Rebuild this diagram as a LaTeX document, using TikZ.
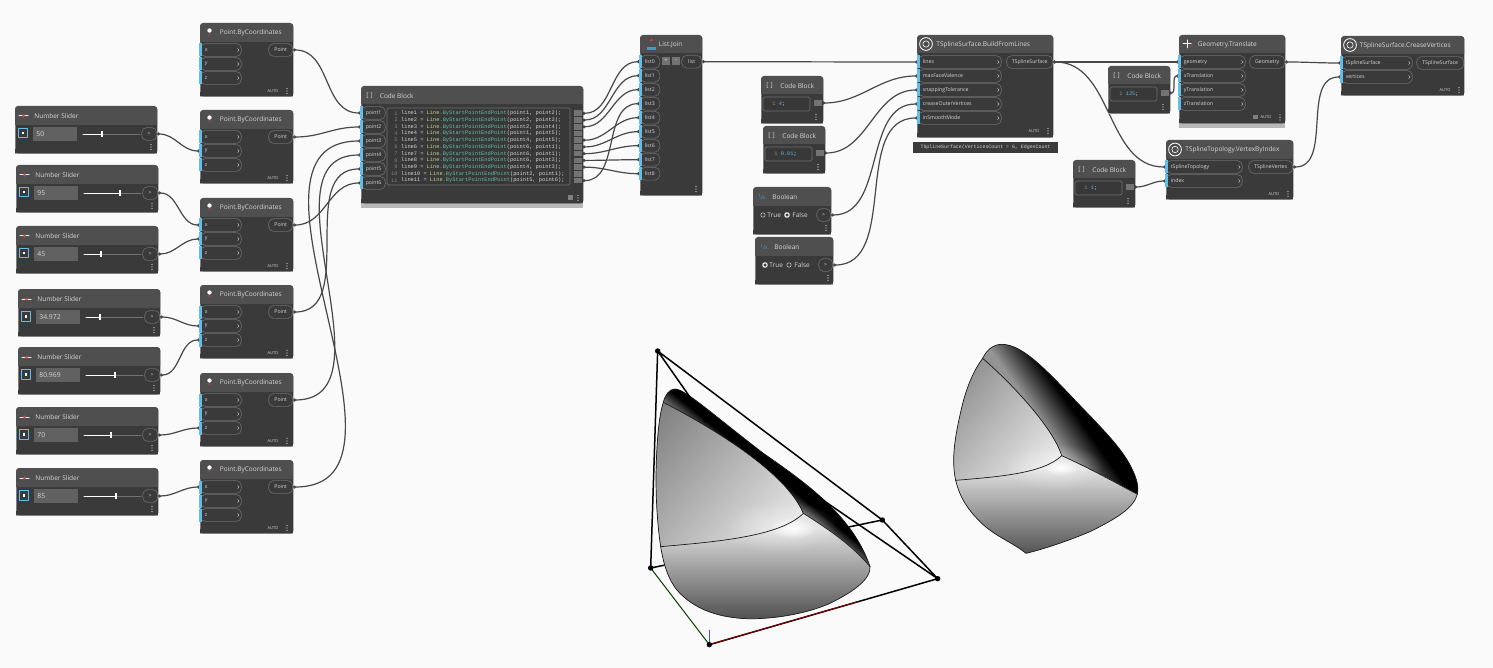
\documentclass[tikz,border=0pt]{standalone}
\usepackage{fontspec}
\setmainfont{Open Sans}
\newfontfamily\codefont{Liberation Mono}
\usetikzlibrary{arrows.meta,backgrounds,fadings}
\definecolor{dynPage}{HTML}{FAFAFA}
\definecolor{dynDark}{HTML}{3A3A3A}
\definecolor{dynHead}{HTML}{4F4F4F}
\definecolor{dynEdge}{HTML}{6E6E6E}
\definecolor{dynWire}{HTML}{484848}
\definecolor{dynBlue}{HTML}{62BDE8}
\definecolor{dynText}{HTML}{D6D6D6}
\definecolor{dynNum}{HTML}{5CB4E4}
\definecolor{dynRed}{HTML}{C8484A}
\definecolor{codeLine}{HTML}{C6D98A}
\definecolor{codeCall}{HTML}{62BFA8}
\tikzset{
	blockbody/.style={fill=dynDark,rounded corners=1.5pt,inner sep=0pt,anchor=north west},
	blocktitle/.style={anchor=west,inner sep=0pt,text=dynText,font=\fontsize{3.25}{4}\selectfont},
	inport/.style={anchor=west,draw=dynEdge,line width=.3pt,fill=dynDark,rounded corners=2.5pt,inner xsep=2.2pt,inner ysep=0pt,minimum height=6.4pt,align=left,text=dynText,font=\fontsize{2.6}{3}\selectfont},
	outport/.style={anchor=east,draw=dynEdge,line width=.3pt,fill=dynDark,rounded corners=2.5pt,inner xsep=0pt,inner ysep=0pt,minimum height=6.4pt,text=dynText,font=\fontsize{2.6}{3}\selectfont},
	porttip/.style={draw=dynText,line width=.2pt},
	codebox/.style={anchor=east,fill=black!55,inner sep=0pt,minimum width=4pt,minimum height=2.8pt},
	codefield/.style={draw=dynEdge,line width=.3pt,fill=black!78,rounded corners=.8pt},
	codetext/.style={anchor=west,inner sep=0pt,text=dynText,font=\fontsize{2.67}{3}\codefont},
	tag/.style={anchor=center,inner sep=0pt,text=dynText,font=\fontsize{2}{2.4}\selectfont},
	wire/.style={draw=dynWire,line width=.6pt,{Circle[length=1.5pt]}-{Circle[length=1.5pt]}},
	longwire/.style={wire,looseness=1.05},
	radioon/.style={draw=white,line width=.55pt,fill=dynDark},
	radiooff/.style={draw=dynText,line width=.25pt,fill=dynDark},
	frameline/.style={draw=black,line width=.75pt},
	seam/.style={draw=black!90,line width=.35pt}
}
\tikzfading[name=glowfade,inner color=transparent!0,outer color=transparent!100]
% name, x, y, width, height, header height
\newcommand{\dynblock}[6]{%
	\fill[black!35] (#2,#3+#5) rectangle (#2+#4,#3+#5+1);
	\node[blockbody,minimum width=#4*.5pt,minimum height=#5*.5pt] (#1) at (#2,#3) {};
	\fill[dynHead] (#2,#3+#6) [rounded corners=1.5pt] -- (#2,#3) -- (#2+#4,#3) [sharp corners] -- (#2+#4,#3+#6) -- cycle;
	\fill[dynDark] (#2,#3+#5-4) rectangle (#2+#4,#3+#5);
}
\newcommand{\dyndots}[2]{\foreach \dd in {-2.5,0,2.5}\fill[dynText] (#1,#2+\dd) circle (.32pt);}
\newcommand{\autotag}[3]{\node[tag] (#1) at (#2,#3) {AUTO};\dyndots{#2+14}{#3}}
% name, x, y, width, label
\newcommand{\plainport}[5]{%
	\node[inport,minimum width=#4*.5pt,text width=(#4-9)*.5pt] (#1) at (#2,#3) {#5};
	\fill[dynBlue] (#2-1,#3-6.5) rectangle (#2+2,#3+6.5);
}
\newcommand{\inport}[5]{%
	\plainport{#1}{#2}{#3}{#4}{#5}
	\draw[porttip] (#1.east) ++(-4,-1.5) -- ++(1.5,1.5) -- ++(-1.5,1.5);
}
\newcommand{\outport}[5]{\node[outport,minimum width=#4*.5pt] (#1) at (#2,#3) {#5};}
\newcommand{\numslider}[5]{%
	\dynblock{#1body}{#2}{#3}{142}{47}{19}
	\draw[white,line width=.5pt] (#2+4,#3+10) -- (#2+13,#3+10);
	\fill[dynRed] (#2+8.5,#3+10) circle (.8pt);
	\node[blocktitle] (#1title) at (#2+19,#3+10.5) {Number Slider};
	\draw[dynBlue,line width=.5pt,fill=dynDark] (#2+3,#3+22.5) rectangle (#2+12,#3+32);
	\fill[white] (#2+6.5,#3+26) rectangle (#2+8.5,#3+28.5);
	\fill[black!62] (#2+18,#3+21) rectangle (#2+62,#3+35);
	\node[codetext,font=\fontsize{3.4}{4}\selectfont] (#1val) at (#2+21,#3+28) {#4};
	\draw[black!55,line width=.3pt] (#2+68,#3+28) -- (#2+125,#3+28);
	\draw[white,line width=.4pt] (#2+68,#3+28) -- (#5,#3+28);
	\fill[white] (#5-1,#3+25) rectangle (#5+1,#3+31);
	\outport{#1}{#2+142}{#3+28}{15}{>}
	\dyndots{#2+136}{#3+41}
}
\newcommand{\pointblock}[2]{%
	\dynblock{#1body}{200}{#2}{93}{73}{19}
	\fill[white] (209.5,#2+7.5) circle (1.1pt);
	\node[tag,text=dynRed,font=\fontsize{1.5}{2}\selectfont] (#1icon) at (209.5,#2+12.5) {xyz};
	\node[blocktitle] (#1title) at (219.5,#2+10) {Point.ByCoordinates};
	\inport{#1x}{200}{#2+27}{41}{x}
	\inport{#1y}{200}{#2+41}{41}{y}
	\inport{#1z}{200}{#2+55}{41}{z}
	\outport{#1}{293}{#2+27}{24}{Point}
	\autotag{#1auto}{273}{#2+68}
}
% name, x, y, code
\newcommand{\smallcode}[4]{%
	\dynblock{#1body}{#2}{#3}{62}{47}{18}
	\node[blocktitle] (#1icon) at (#2+5,#3+10) {[\textcolor{dynRed}{\,\,}]};
	\node[blocktitle] (#1title) at (#2+19,#3+10) {Code Block};
	\draw[codefield] (#2+2,#3+21) rectangle (#2+49,#3+35);
	\node[codetext] (#1code) at (#2+11,#3+28) {\textcolor{black!45}{1} \textcolor{dynNum}{#4};};
	\node[codebox] (#1) at (#2+61,#3+27) {};
	\dyndots{#2+55}{#3+41}
}
\newcommand{\boolblock}[5]{%
	\dynblock{#1body}{#2}{#3}{78}{47}{19}
	\node[tag,text=dynNum,font=\fontsize{2.6}{3}\selectfont] (#1icon) at (#2+9,#3+10) {\raisebox{.8pt}{\fontsize{1.8}{2}\selectfont 1}/\fontsize{1.8}{2}\selectfont 0};
	\node[blocktitle] (#1title) at (#2+19,#3+10.5) {Boolean};
	\draw[#4] (#2+10,#3+28) circle (1.1pt);
	\node[blocktitle] (#1true) at (#2+14,#3+28) {True};
	\draw[#5] (#2+34,#3+28) circle (1.1pt);
	\node[blocktitle] (#1false) at (#2+39,#3+28) {False};
	\outport{#1}{#2+78}{#3+28}{14}{>}
	\dyndots{#2+73}{#3+41}
}
\newcommand{\tsicon}[2]{%
	\draw[white,line width=.4pt] (#1,#2) circle (3.2pt);
	\draw[white,line width=.3pt] (#1,#2) circle (1.6pt);
}
\begin{document}
\begin{tikzpicture}[x=.5pt,y=-.5pt,line join=round,line cap=round]
	\useasboundingbox (0,0) rectangle (1493,668);
	\begin{scope}[on background layer]
		\fill[dynPage] (0,0) rectangle (1493,668);
	\end{scope}
	% sliders
	\numslider{sa}{15}{106}{50}{102}
	\numslider{sb}{16}{165}{95}{120}
	\numslider{sc}{16}{226}{45}{101}
	\numslider{sd}{18}{289}{34.972}{100}
	\numslider{se}{18}{347}{80.969}{115}
	\numslider{sf}{16}{407}{70}{111}
	\numslider{sg}{16}{468}{85}{116}
	% points
	\foreach \nm/\yy in {pa/23,pb/110,pc/198,pd/285,pe/373,pf/460}{\pointblock{\nm}{\yy}}
	% big code block
	\fill[black!28] (361,203) rectangle (583,208);
	\dynblock{cbbody}{361}{86}{222}{117}{18}
	\node[blocktitle] (cbicon) at (366,96) {[\textcolor{dynRed}{\,\,}]};
	\node[blocktitle] (cbtitle) at (379.5,96) {Code Block};
	\draw[codefield] (387,108) rectangle (570,185);
	\foreach \i/\yy in {1/113,2/127,3/141,4/155,5/169,6/183}{\plainport{point\i}{361}{\yy}{24}{point\i}}
	\foreach \a/\b [count=\n] in {1/2,2/3,2/4,1/5,4/5,6/1,6/1,6/3,4/3,2/1,5/6}{
		\node[codetext,anchor=east,text=black!50] (cbnum\n) at (398,{113.3+(\n-1)*6.73}) {\n};
		\node[codetext] (cbline\n) at (400.7,{113.3+(\n-1)*6.73}) {line\n{} = \textcolor{codeLine}{Line}\textcolor{codeCall}{.ByStartPointEndPoint}(point\a, point\b);};
		\node[codebox] (cbout\n) at (582.5,{113.3+(\n-1)*6.73}) {};
	}
	\fill[black!50] (568,195.5) rectangle (573,200);
	\dyndots{578}{198}
	% list join
	\dynblock{ljbody}{640}{35}{62}{160}{18}
	\fill[dynBlue!80!black] (647,47) rectangle (656,50);
	\fill[dynRed] (650,41) -- (653,41) -- (651.5,38) -- cycle;
	\node[blocktitle] (ljtitle) at (658.5,44.5) {List.Join};
	\foreach \i in {0,...,8}{\plainport{list\i}{640}{61.7+14*\i}{19.5}{list\i}}
	\node[codebox,anchor=west,minimum width=3.6pt,minimum height=4pt,text=dynText,font=\fontsize{3}{3}\selectfont] (ljplus) at (662,61) {+};
	\node[codebox,anchor=west,minimum width=3.6pt,minimum height=4pt,text=dynText,font=\fontsize{3}{3}\selectfont] (ljminus) at (672,61) {-};
	\outport{ljout}{702}{61.7}{20}{list}
	\dyndots{696}{189}
	% build from lines
	\dynblock{bfbody}{917}{35}{136}{102}{18}
	\tsicon{926}{44}
	\node[blocktitle] (bftitle) at (936,44.5) {TSplineSurface.BuildFromLines};
	\foreach \nm/\lb [count=\n] in {bfa/lines,bfb/maxFaceValence,bfc/snappingTolerance,bfd/creaseOuterVertices,bfe/inSmoothMode}{\inport{\nm}{918}{48+14*\n}{83}{\lb}}
	\outport{bfout}{1053}{62}{46}{TSplineSurface}
	\autotag{bfauto}{1034}{131}
	\node[fill=dynDark,inner sep=0pt,minimum width=72.5pt,minimum height=5.5pt,text=dynText,font=\fontsize{2.46}{3}\codefont] (bfbubble) at (985.5,147.5) {TSplineSurface(VerticesCount = 6, EdgesCount};
	% small blocks
	\smallcode{cca}{761}{76}{4}
	\smallcode{ccb}{763}{126}{0.01}
	\boolblock{ba}{753}{187}{radiooff}{radioon}
	\boolblock{bb}{755}{237}{radioon}{radiooff}
	\smallcode{ccc}{1108}{66}{125}
	\smallcode{ccd}{1073}{160}{1}
	% translate
	\fill[black!28] (1179,123) rectangle (1285,128);
	\dynblock{gtbody}{1179}{35}{106}{88}{18}
	\draw[white,line width=.5pt] (1183,44) -- (1191,44) (1187,40) -- (1187,48);
	\node[tag,text=dynRed,font=\fontsize{1.5}{2}\selectfont] (gticon) at (1191,47.5) {xyz};
	\node[blocktitle] (gttitle) at (1197.5,44.5) {Geometry.Translate};
	\foreach \nm/\lb [count=\n] in {gta/geometry,gtb/xTranslation,gtc/yTranslation,gtd/zTranslation}{\inport{\nm}{1179}{48+14*\n}{66}{\lb}}
	\outport{gtout}{1285}{62}{35}{Geometry}
	\fill[black!50] (1253,115) rectangle (1258,119);
	\autotag{gtauto}{1266}{117.5}
	% vertex by index
	\dynblock{vibody}{1166}{140}{127}{59}{19}
	\tsicon{1175}{149.5}
	\node[blocktitle] (vititle) at (1185,149.5) {TSplineTopology.VertexByIndex};
	\inport{via}{1166}{167}{76}{tSplineTopology}
	\inport{vib}{1166}{181}{76}{index}
	\outport{viout}{1293}{167}{44}{TSplineVertex}
	\autotag{viauto}{1274}{194}
	% crease vertices
	\dynblock{cvbody}{1341}{36}{123}{59}{18}
	\tsicon{1350}{45}
	\node[blocktitle] (cvtitle) at (1359.5,45.5) {TSplineSurface.CreaseVertices};
	\inport{cva}{1341}{63}{71}{tSplineSurface}
	\inport{cvb}{1341}{77}{71}{vertices}
	\outport{cvout}{1464}{63}{47}{TSplineSurface}
	\autotag{cvauto}{1445}{90}
	% wires
	\begin{scope}[on background layer]
		\draw[wire] (sa) to[out=0,in=180] (pby);
		\draw[wire] (sb) to[out=0,in=180] (pcx);
		\draw[wire] (sc) to[out=0,in=180] (pcy);
		\draw[wire] (sd) to[out=0,in=180] (pdy);
		\draw[wire] (se) to[out=0,in=180] (pdz);
		\draw[wire] (sf) to[out=0,in=180] (pez);
		\draw[wire] (sg) to[out=0,in=180] (pfx);
		\foreach \s/\t in {pa/point1,pb/point2,pc/point6,pd/point5,pe/point4,pf/point3}
			\draw[longwire] (\s.east) to[out=0,in=180] (\t.west);
		\foreach \a/\b in {1/0,2/1,3/2,5/4,6/5,7/6,8/7,9/8,11/3}
			\draw[wire] (cbout\a.east) to[out=0,in=180] (list\b.west);
		\draw[wire] (ljout.east) to[out=0,in=180] (bfa.west);
		\draw[wire] (cca.east) to[out=0,in=180] (bfb.west);
		\draw[wire] (ccb.east) to[out=0,in=180] (bfc.west);
		\draw[wire] (ba.east) to[out=0,in=180] (bfd.west);
		\draw[wire] (bb.east) to[out=0,in=180] (bfe.west);
		\draw[wire] (bfout.east) to[out=0,in=180] (gta.west);
		\draw[wire] (bfout.east) to[out=0,in=180] (via.west);
		\draw[wire] (ccc.east) to[out=0,in=180] (gtb.west);
		\draw[wire] (ccd.east) to[out=0,in=180] (vib.west);
		\draw[wire] (gtout.east) to[out=0,in=180] (cva.west);
		\draw[wire] (viout.east) to[out=0,in=180] (cvb.west);
	\end{scope}
	% control frame with surface
	\begin{scope}[shift={(630,340)},x=.16667pt,y=-.16667pt]
		\coordinate (wa) at (83,33);
		\coordinate (wb) at (228,240);
		\coordinate (wc) at (62,684);
		\coordinate (wd) at (238,914);
		\coordinate (we) at (923,716);
		\coordinate (wf) at (757,540);
		\coordinate (wg) at (683,785);
		\coordinate (wh) at (238,870);
		\coordinate (la) at (300,400);
		\coordinate (lb) at (450,400);
		\draw[frameline] (wf) -- (wc);
		\def\sleft{.. controls (80,540) and (75,440) .. (80,340) .. controls (83,280) and (88,225) .. (100,187)}
		\def\stop{.. controls (105,165) and (118,147) .. (135,147) .. controls (165,147) and (250,225) .. (400,340) .. controls (530,430) and (670,530) .. (720,680)}
		\def\slow{.. controls (722,715) and (680,750) .. (600,790) .. controls (520,825) and (420,838) .. (350,836) .. controls (250,832) and (190,800) .. (150,760) .. controls (115,725) and (100,670) .. (92,620)}
		\begin{scope}
			\clip (92,620) \sleft .. controls (260,270) and (470,400) .. (520,520) .. controls (450,590) and (260,605) .. (92,620) -- cycle;
			\fill[black!48] (0,0) rectangle (800,900);
			\shade[transform canvas={rotate around={-40:(la)}},left color=black!50,right color=black!10] (10,-200) rectangle (545,1000);
		\end{scope}
		\begin{scope}
			\clip (100,187) \stop .. controls (670,620) and (600,570) .. (520,520) .. controls (470,400) and (260,270) .. (100,187) -- cycle;
			\fill[black!48] (0,0) rectangle (800,900);
			\shade[transform canvas={rotate around={51:(lb)}},left color=black!48,right color=black,middle color=black] (390,-400) rectangle (480,1200);
		\end{scope}
		\begin{scope}
			\clip (720,680) \slow .. controls (260,605) and (450,590) .. (520,520) .. controls (600,570) and (670,620) .. (720,680) -- cycle;
			\fill[black!12] (0,0) rectangle (800,900);
			\shade[top color=black!12,bottom color=black!70] (0,560) rectangle (800,845);
		\end{scope}
		\begin{scope}
			\clip (100,187) \stop \slow \sleft -- cycle;
			\fill[white,opacity=.4,path fading=glowfade] (450,560) ellipse (170 and 80);
			\fill[white,path fading=glowfade] (490,565) ellipse (70 and 32);
		\end{scope}
		\draw[seam] (100,187) \stop \slow \sleft -- cycle;
		\draw[seam] (100,187) .. controls (260,270) and (470,400) .. (520,520);
		\draw[seam] (92,620) .. controls (260,605) and (450,590) .. (520,520);
		\draw[seam] (520,520) .. controls (600,570) and (670,620) .. (720,680);
		\draw[frameline] (wa) -- (wc) (wa) -- (wf) -- (we) (wa) -- (wb) -- (we) -- (wd);
		\draw[draw=black!15!green!30!black,line width=.5pt] (wc) -- (wd);
		\draw[draw=red!50!black,line width=.5pt] (wd) -- (wg);
		\draw[draw=blue!70,line width=.25pt] (wd) -- (wh);
		\foreach \p in {wa,wb,wc,wd,we,wf}\fill (\p) circle (1.35pt);
	\end{scope}
	% creased result
	\begin{scope}[shift={(940,335)},x=.16667pt,y=-.16667pt]
		\coordinate (ra) at (200,250);
		\coordinate (rb) at (400,200);
		\def\sleft{.. controls (35,380) and (42,320) .. (60,240) .. controls (75,170) and (95,115) .. (128,70)}
		\def\stop{.. controls (140,45) and (160,28) .. (185,28) .. controls (240,28) and (300,85) .. (390,180) .. controls (470,265) and (545,335) .. (575,400) .. controls (590,430) and (597,455) .. (592,478)}
		\def\slow{.. controls (580,520) and (530,550) .. (450,590) .. controls (390,615) and (320,640) .. (258,655) .. controls (215,620) and (165,605) .. (120,560) .. controls (85,525) and (60,490) .. (47,436)}
		\begin{scope}
			\clip (47,436) \sleft .. controls (220,150) and (340,280) .. (365,362) .. controls (310,415) and (180,425) .. (47,436) -- cycle;
			\fill[black!42] (0,0) rectangle (700,700);
			\shade[transform canvas={rotate around={-40:(ra)}},left color=black!42,right color=black!8] (29,-250) rectangle (398,750);
		\end{scope}
		\begin{scope}
			\clip (128,70) \stop .. controls (530,445) and (450,400) .. (365,362) .. controls (340,280) and (220,150) .. (128,70) -- cycle;
			\fill[black!42] (0,0) rectangle (700,700);
			\shade[transform canvas={rotate around={35:(rb)}},left color=black!42,right color=black,middle color=black] (285,-400) rectangle (485,800);
		\end{scope}
		\begin{scope}
			\clip (592,478) \slow .. controls (180,425) and (310,415) .. (365,362) .. controls (450,400) and (530,445) .. (592,478) -- cycle;
			\fill[black!12] (0,0) rectangle (700,700);
			\shade[top color=black!12,bottom color=black!68] (0,400) rectangle (700,660);
		\end{scope}
		\begin{scope}
			\clip (128,70) \stop \slow \sleft -- cycle;
			\fill[white,opacity=.4,path fading=glowfade] (340,395) ellipse (150 and 70);
			\fill[white,path fading=glowfade] (362,398) ellipse (55 and 24);
		\end{scope}
		\draw[seam] (128,70) \stop \slow \sleft -- cycle;
		\draw[seam] (128,70) .. controls (220,150) and (340,280) .. (365,362);
		\draw[seam] (47,436) .. controls (180,425) and (310,415) .. (365,362);
		\draw[seam] (365,362) .. controls (450,400) and (530,445) .. (592,478);
	\end{scope}
\end{tikzpicture}
\end{document}
